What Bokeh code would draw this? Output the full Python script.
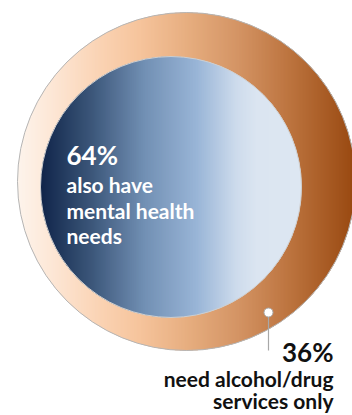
import numpy as np
from bokeh.plotting import figure
from bokeh.models import Range1d
from bokeh.core.properties import value
from bokeh.embed import file_html
from bokeh.resources import INLINE

# ---- data ----
categories = ["also have mental health needs", "need alcohol/drug services only"]
shares = [64, 36]
inner_lines = ["also have", "mental health", "needs"]
outer_lines = ["need alcohol/drug", "services only"]

# ---- styles ----
outer_stops = [(0.00, "#fdf4ec"), (0.10, "#fde7d6"), (0.25, "#fad2b2"),
               (0.36, "#f6c49c"), (0.50, "#e7ae80"), (0.65, "#d49465"),
               (0.80, "#bd7540"), (1.00, "#984810")]
inner_stops = [(0.00, "#10254a"), (0.20, "#3d587b"), (0.40, "#7290b4"),
               (0.60, "#99b5d7"), (0.75, "#cddbec"), (0.83, "#dbe5f1"),
               (1.00, "#dde7f2")]
FONT = "Lato"

W, H = 352, 415
p = figure(width=W, height=H, x_range=Range1d(0, W), y_range=Range1d(H, 0),
           output_backend="svg", toolbar_location=None, min_border=0)
p.axis.visible = False
p.grid.visible = False
p.outline_line_color = None
p.background_fill_color = "white"
p.border_fill_color = "white"


def hex2rgb(h):
    h = h.lstrip("#")
    return [int(h[i:i + 2], 16) for i in (0, 2, 4)]


def interp(stops, t):
    t = min(max(t, 0.0), 1.0)
    for (t0, c0), (t1, c1) in zip(stops[:-1], stops[1:]):
        if t0 <= t <= t1:
            f = 0 if t1 == t0 else (t - t0) / (t1 - t0)
            a, b = hex2rgb(c0), hex2rgb(c1)
            rgb = [round(a[k] + (b[k] - a[k]) * f) for k in range(3)]
            return "#%02x%02x%02x" % tuple(rgb)
    return stops[-1][1]


def gradient_disc(cx, cy, r, stops, step=1.0, overlap=0.8):
    xs, ys, colors = [], [], []
    n = int(np.ceil(2 * r / step))
    for i in range(n):
        a = cx - r + i * step
        b = min(a + step + overlap, cx + r)
        px = np.linspace(a, b, 3)
        half = np.sqrt(np.clip(r * r - (px - cx) ** 2, 0, None))
        xs.append(list(px) + list(px[::-1]))
        ys.append(list(cy - half) + list((cy + half)[::-1]))
        colors.append(interp(stops, (a + step / 2 - (cx - r)) / (2 * r)))
    p.patches(xs, ys, fill_color=colors, line_color=None)


# outer disc = whole population, inner disc = share with mental health needs
R_out, cxo, cyo = 169, 186, 181
R_in, cxi, cyi = 130.5, 170.5, 186.5

gradient_disc(cxo, cyo, R_out, outer_stops)
p.circle(x=[cxo], y=[cyo], radius=R_out, fill_color=None,
         line_color="#b5b5b5", line_width=1)
gradient_disc(cxi, cyi, R_in, inner_stops)
p.circle(x=[cxi], y=[cyi], radius=R_in, fill_color=None,
         line_color="#cfcfcf", line_width=1)

# leader line + dot
p.segment(x0=[268], y0=[312], x1=[268], y1=[350], line_color="#a8a8a8", line_width=1.2)
p.scatter(x=[268], y=[312], size=9, fill_color="white", line_color="#a8a8a8", line_width=1)

# inner label
p.text(x=[66], y=[154], text=[f"{shares[0]}%"], text_font=value(FONT),
       text_font_style="bold", text_font_size="26px", text_color="white",
       text_baseline="alphabetic", text_align="left")
p.text(x=[66] * len(inner_lines), y=[184, 210, 235], text=inner_lines,
       text_font=value(FONT), text_font_style="bold", text_font_size="21px",
       text_color="white", text_baseline="alphabetic", text_align="left")

# outer label
p.text(x=[333], y=[351], text=[f"{shares[1]}%"], text_font=value(FONT),
       text_font_style="bold", text_font_size="26px", text_color="#111111",
       text_baseline="alphabetic", text_align="right")
p.text(x=[333] * len(outer_lines), y=[378, 400], text=outer_lines,
       text_font=value(FONT), text_font_style="bold", text_font_size="21px",
       text_color="#111111", text_baseline="alphabetic", text_align="right")

open("out.html", "w").write(file_html(p, INLINE))
